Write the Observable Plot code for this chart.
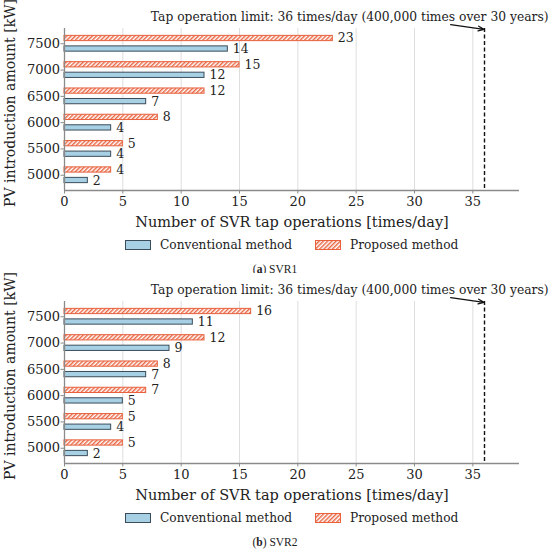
<!DOCTYPE html>
<html>
<head>
<meta charset="utf-8">
<script src="https://cdn.jsdelivr.net/npm/d3@7"></script>
<script src="https://cdn.jsdelivr.net/npm/@observablehq/plot@0.6"></script>
<style>
  html, body { margin: 0; padding: 0; background: #fff; }
  #root { position: relative; width: 550px; height: 554px; overflow: hidden; font-family: "DejaVu Serif", serif; color: #222; }
  .panel { position: absolute; left: 0; width: 550px; height: 273px; }
  .panel svg.chart { position: absolute; left: 0; top: 0; }
  .ylabel { position: absolute; left: -140px; top: 95px; width: 300px; height: 16px; line-height: 16px; text-align: center; font-size: 14px; transform: rotate(-90deg); transform-origin: 50% 50%; white-space: nowrap; }
  .legend { position: absolute; left: 0; width: 550px; top: 236px; height: 18px; font-size: 12.2px; }
  .legend .item { position: absolute; top: 0; display: flex; align-items: center; height: 18px; white-space: nowrap; }
  .legend svg { margin-right: 9px; }
  .caption { position: absolute; left: 0; width: 550px; top: 263px; text-align: center; font-family: "Liberation Serif", serif; font-size: 11.5px; color: #222; }
</style>
</head>
<body>
<div id="root"></div>
<script>
// ---- data ----
const pvAmounts = [5000, 5500, 6000, 6500, 7000, 7500];
const svr1Conventional = [2, 4, 4, 7, 12, 14];
const svr1Proposed = [4, 5, 8, 12, 15, 23];
const svr2Conventional = [2, 4, 5, 7, 9, 11];
const svr2Proposed = [5, 5, 7, 8, 12, 16];
const xTicks = [0, 5, 10, 15, 20, 25, 30, 35];
const tapLimit = 36;
const limitTitle = "Tap operation limit: 36 times/day (400,000 times over 30 years)";
const xLabel = "Number of SVR tap operations [times/day]";
const yLabel = "PV introduction amount [kW]";
const seriesNames = ["Conventional method", "Proposed method"];
const captions = [["a", "SVR1"], ["b", "SVR2"]];

// ---- style ----
const convFill = "#a7d0e4", convStroke = "#3b4d5a";
const propStroke = "#e8603c";
const xDomain = [0, 39];
const yDomain = [-0.58, 5.58];
const barOffset = 0.2, barHalf = 0.1;

function hatchDefs(id) {
  return `<pattern id="${id}" patternUnits="userSpaceOnUse" width="3" height="3" patternTransform="rotate(45)">
    <rect width="3" height="3" fill="#fff"/>
    <line x1="0.75" y1="0" x2="0.75" y2="3" stroke="${propStroke}" stroke-width="1.4"/>
  </pattern>`;
}

function makePanel(conv, prop, idx) {
  const hatchId = "hatch" + idx;
  const rows = [];
  pvAmounts.forEach((p, i) => {
    rows.push({i, pv: p, method: seriesNames[0], value: conv[i], pos: i - barOffset});
    rows.push({i, pv: p, method: seriesNames[1], value: prop[i], pos: i + barOffset});
  });
  const convRows = rows.filter(d => d.method === seriesNames[0]);
  const propRows = rows.filter(d => d.method === seriesNames[1]);
  const arrow = [{x1: 33.1, y1: 5.73, x2: 35.95, y2: 5.55}];

  const svg = Plot.plot({
    width: 550,
    height: 232,
    marginLeft: 64,
    marginRight: 31,
    marginTop: 28,
    marginBottom: 42,
    style: {fontFamily: "DejaVu Serif", fontSize: "13px", color: "#222", background: "#fff", overflow: "visible"},
    x: {domain: xDomain, ticks: xTicks},
    y: {domain: yDomain},
    marks: [
      Plot.gridX(xTicks.slice(1), {stroke: "#dedede", strokeOpacity: 1, strokeWidth: 1}),
      Plot.rect(convRows, {x1: d => 0, x2: "value", y1: d => d.pos - barHalf, y2: d => d.pos + barHalf, fill: convFill, stroke: convStroke, strokeWidth: 1}),
      Plot.rect(propRows, {x1: d => 0, x2: "value", y1: d => d.pos - barHalf, y2: d => d.pos + barHalf, fill: `url(#${hatchId})`, stroke: propStroke, strokeWidth: 1}),
      Plot.text(rows, {x: "value", y: "pos", text: d => String(d.value), dx: 5, textAnchor: "start", fontSize: 12.5, fill: "#222"}),
      Plot.ruleX([tapLimit], {stroke: "#111", strokeWidth: 1.4, strokeDasharray: "4,2.5"}),
      Plot.ruleX([xDomain[0]], {stroke: "#8a8a8a", strokeWidth: 1.3}),
      Plot.ruleY([yDomain[0]], {stroke: "#8a8a8a", strokeWidth: 1.5}),
      Plot.arrow(arrow, {x1: "x1", y1: "y1", x2: "x2", y2: "y2", stroke: "#111", strokeWidth: 1.3, headLength: 7, headAngle: 45}),
      Plot.text([limitTitle], {frameAnchor: "top-right", dx: 29, dy: -16.5, textAnchor: "end", fontSize: 12.3, fill: "#222"}),
      Plot.axisX({ticks: xTicks, tickSize: 3.5, tickPadding: 3, stroke: "#8a8a8a", fill: "#222", fontSize: 13, label: null}),
      Plot.axisY({ticks: [0, 1, 2, 3, 4, 5], tickFormat: i => String(pvAmounts[i]), tickSize: 3.5, tickPadding: 1, stroke: "#8a8a8a", fill: "#222", fontSize: 13, label: null}),
      Plot.text([xLabel], {frameAnchor: "bottom", dy: 32, lineAnchor: "middle", fontSize: 14.5, fill: "#222"})
    ]
  });
  svg.classList.add("chart");
  const defs = document.createElementNS("http://www.w3.org/2000/svg", "defs");
  defs.innerHTML = hatchDefs(hatchId);
  svg.insertBefore(defs, svg.firstChild);
  return svg;
}

function legendDiv(idx) {
  const lg = document.createElement("div");
  lg.className = "legend";
  const hid = "lhatch" + idx;
  lg.innerHTML = `
    <div class="item" style="left:125px"><svg width="26" height="10"><rect x="0.5" y="0.5" width="25" height="9" fill="${convFill}" stroke="${convStroke}" stroke-width="1"/></svg><span>${seriesNames[0]}</span></div>
    <div class="item" style="left:315px"><svg width="26" height="10"><defs>${hatchDefs(hid)}</defs><rect x="0.5" y="0.5" width="25" height="9" fill="url(#${hid})" stroke="${propStroke}" stroke-width="1"/></svg><span>${seriesNames[1]}</span></div>`;
  return lg;
}

const root = document.getElementById("root");
[[svr1Conventional, svr1Proposed], [svr2Conventional, svr2Proposed]].forEach(([c, p], k) => {
  const panel = document.createElement("div");
  panel.className = "panel";
  panel.style.top = (k * 273.4) + "px";
  panel.appendChild(makePanel(c, p, k));
  const yl = document.createElement("div");
  yl.className = "ylabel";
  yl.textContent = yLabel;
  panel.appendChild(yl);
  panel.appendChild(legendDiv(k));
  const cap = document.createElement("div");
  cap.className = "caption";
  cap.innerHTML = `(<b>${captions[k][0]}</b>) ${captions[k][1]}`;
  panel.appendChild(cap);
  root.appendChild(panel);
});
</script>
</body>
</html>
